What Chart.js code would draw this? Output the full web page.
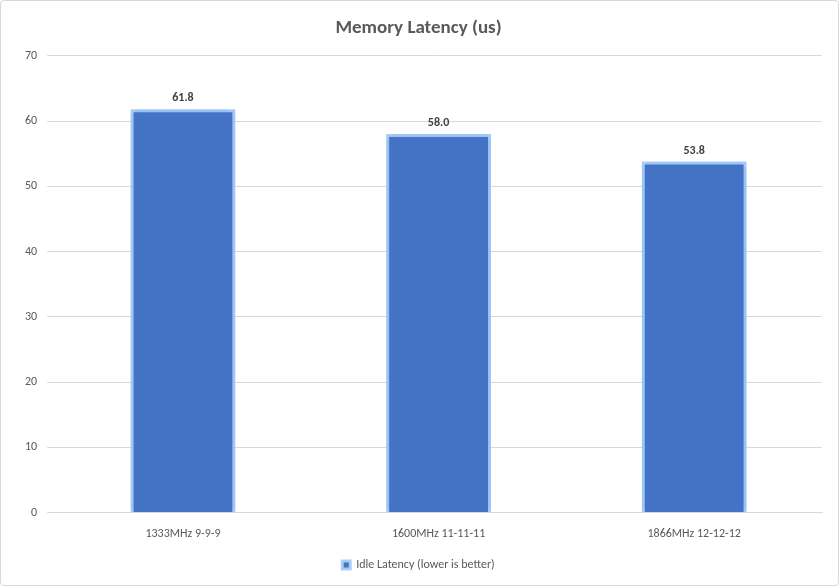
<!DOCTYPE html>
<html><head><script src="https://cdn.jsdelivr.net/npm/chart.js"></script>
<style>body{margin:0;background:#fff}#w{position:absolute;left:0;top:0;width:837px;height:584px;border:1px solid #d9d9d9;border-radius:4px}</style>
</head><body><div id="w"><canvas id="c"></canvas></div>
<script>
const categories=["1333MHz 9-9-9","1600MHz 11-11-11","1866MHz 12-12-12"];
const values=[61.8,58.0,53.8];
const yTicks=[0,10,20,30,40,50,60,70];
const labelPlugin={id:'lbl',afterDatasetsDraw(ch){const ctx=ch.ctx;const m=ch.getDatasetMeta(0);ctx.save();ctx.font='bold 12px Calibri, "Liberation Sans", sans-serif';ctx.fillStyle='#404040';ctx.textAlign='center';ctx.textBaseline='bottom';m.data.forEach((b,i)=>ctx.fillText(values[i].toFixed(1),b.x,b.y-5));ctx.restore();}};
const glow={id:'glow',beforeDatasetsDraw(ch){ch.ctx.save();ch.ctx.shadowColor='rgba(120,170,240,0.9)';ch.ctx.shadowBlur=6;},afterDatasetsDraw(ch){ch.ctx.restore();}};
new Chart(document.getElementById('c'),{type:'bar',
data:{labels:categories,datasets:[{label:'Idle Latency (lower is better)',data:values,backgroundColor:'#4472c4',borderColor:'rgba(170,205,245,0.95)',borderWidth:3,categoryPercentage:1,barPercentage:0.41}]},
options:{responsive:true,maintainAspectRatio:false,animation:false,
layout:{padding:{left:14,right:16,top:4,bottom:4}},
plugins:{title:{display:true,text:'Memory Latency (us)',color:'#595959',font:{size:19,weight:'bold',family:'Calibri, "Liberation Sans", sans-serif'},padding:{top:12,bottom:16}},
legend:{position:'bottom',labels:{boxWidth:8,boxHeight:8,color:'#595959',font:{size:12,family:'Calibri, "Liberation Sans", sans-serif'},padding:12}},tooltip:{enabled:false}},
scales:{x:{grid:{display:false},border:{color:'#d9d9d9'},ticks:{color:'#595959',font:{size:12,family:'Calibri, "Liberation Sans", sans-serif'},padding:6}},
y:{min:0,max:70,afterBuildTicks(a){a.ticks=yTicks.map(v=>({value:v}));},grid:{color:'#d9d9d9'},border:{display:false},ticks:{color:'#595959',padding:10,font:{size:12,family:'Calibri, "Liberation Sans", sans-serif'}}}}},
plugins:[glow,labelPlugin]});
</script></body></html>
